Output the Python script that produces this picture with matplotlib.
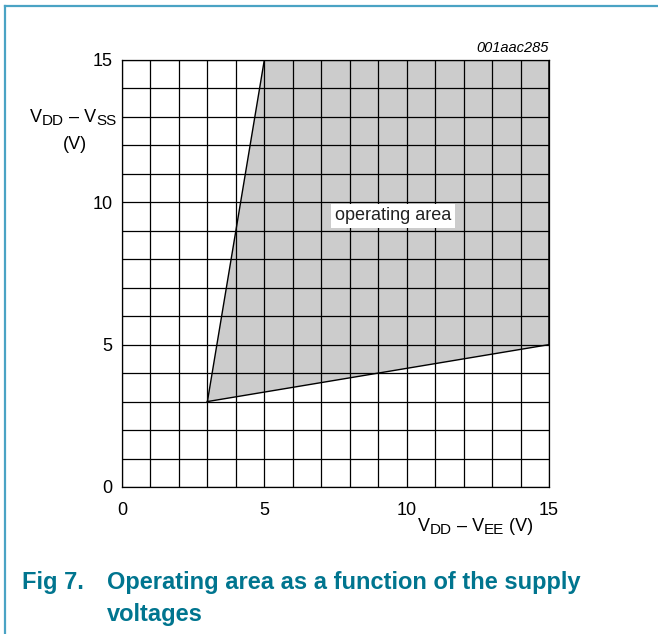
import matplotlib.pyplot as plt
from matplotlib.lines import Line2D

plt.rcParams['font.family'] = ['Liberation Sans', 'DejaVu Sans']

# Operating area boundary (V_DD - V_EE, V_DD - V_SS)
area_x = [3, 5, 15, 15, 3]
area_y = [3, 15, 15, 5, 3]

x_ticks = [0, 5, 10, 15]
y_ticks = [0, 5, 10, 15]
grid_steps = list(range(0, 16))

W, H = 658, 634
fig = plt.figure(figsize=(W / 100, H / 100), dpi=100)
ax = fig.add_axes([0.1854, 0.2319, 0.6489, 0.6735])
renderer = fig.canvas.get_renderer()


def rich_text(x0, y0, segments):
    # draws text pieces one after another; x0, y0 are pixels from the top-left
    x = x0
    for s, size, dy in segments:
        t = fig.text(x / W, 1 - (y0 + dy) / H, s, fontsize=size,
                     ha='left', va='baseline')
        x += t.get_window_extent(renderer).width
    return x


# gray operating region with its black outline
ax.fill(area_x, area_y, color='#cccccc', zorder=1, linewidth=0)

# grid every 1 V
for g in grid_steps:
    ax.axvline(g, color='black', linewidth=0.9, zorder=2)
    ax.axhline(g, color='black', linewidth=0.9, zorder=2)

ax.plot(area_x, area_y, color='black', linewidth=1.0, zorder=3)

ax.text(9.52, 9.52, 'operating area', ha='center', va='center', fontsize=13,
        color='#222222', zorder=4,
        bbox=dict(facecolor='white', edgecolor='none', pad=2.5))

ax.set_xlim(0, 15)
ax.set_ylim(0, 15)
ax.set_xticks(x_ticks)
ax.set_yticks(y_ticks)
ax.tick_params(length=0, labelsize=13)
ax.tick_params(axis='x', pad=11)
ax.tick_params(axis='y', pad=7)
for s in ax.spines.values():
    s.set_linewidth(0.9)

ax.text(1.0, 1.012, '001aac285', transform=ax.transAxes, ha='right', va='bottom',
        fontsize=10.5, style='italic')

main, sub = 13, 11
rich_text(30, 122, [('V', main, 0), ('DD', sub, 3), (' – V', main, 0), ('SS', sub, 3)])
fig.text(75 / W, 1 - 149 / H, '(V)', fontsize=main, ha='center', va='baseline')
rich_text(418, 531, [('V', main, 0), ('DD', sub, 3), (' – V', main, 0), ('EE', sub, 3),
                     (' (V)', main, 0)])

# caption
cap_color = '#00758f'
fig.text(22 / W, 1 - 583 / H, 'Fig 7.', ha='left', va='center', fontsize=17,
         fontweight='bold', color=cap_color)
fig.text(107 / W, 1 - 583 / H, 'Operating area as a function of the supply',
         ha='left', va='center', fontsize=17, fontweight='bold', color=cap_color)
fig.text(107 / W, 1 - 614 / H, 'voltages',
         ha='left', va='center', fontsize=17, fontweight='bold', color=cap_color)

# page border (left and top)
border = '#4aa3c4'
fig.add_artist(Line2D([5 / W, 5 / W], [0, 1 - 6 / H], color=border, linewidth=1.6,
                      transform=fig.transFigure))
fig.add_artist(Line2D([5 / W, 1], [1 - 6 / H, 1 - 6 / H], color=border, linewidth=1.6,
                      transform=fig.transFigure))

fig.savefig('out.png', dpi=100)
